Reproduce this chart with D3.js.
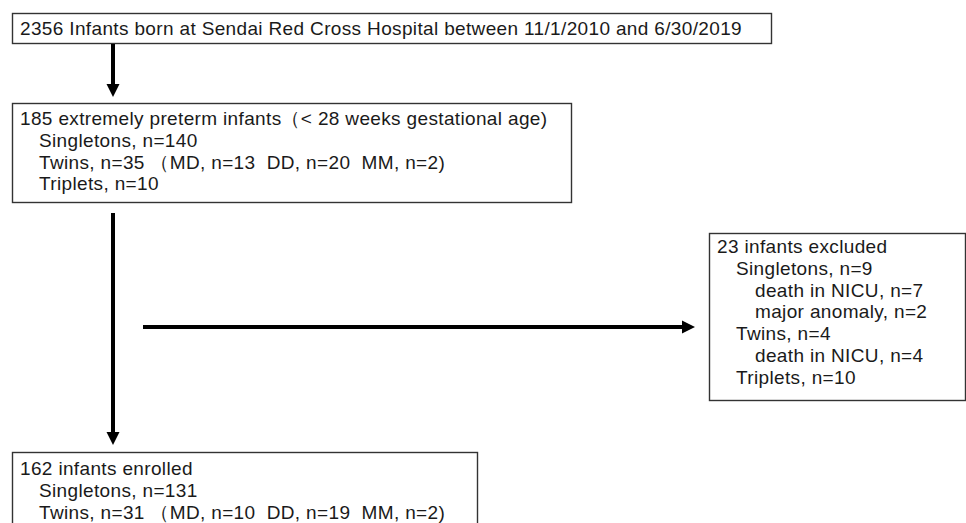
<!DOCTYPE html>
<html>
<head>
<meta charset="utf-8">
<script src="https://cdn.jsdelivr.net/npm/d3@7"></script>
<style>
  body { margin: 0; background: #fff; }
  svg { display: block; }
</style>
</head>
<body>
<div id="chart"></div>
<script>
// box texts (indent level, text)
var screenedLines = [[0, "2356 Infants born at Sendai Red Cross Hospital between 11/1/2010 and 6/30/2019"]];
var pretermLines = [
  [0, "185 extremely preterm infants（< 28 weeks gestational age)"],
  [1, "Singletons, n=140"],
  [1, "Twins, n=35 （MD, n=13  DD, n=20  MM, n=2)"],
  [1, "Triplets, n=10"]
];
var excludedLines = [
  [0, "23 infants excluded"],
  [1, "Singletons, n=9"],
  [2, "death in NICU, n=7"],
  [2, "major anomaly, n=2"],
  [1, "Twins, n=4"],
  [2, "death in NICU, n=4"],
  [1, "Triplets, n=10"]
];
var enrolledLines = [
  [0, "162 infants enrolled"],
  [1, "Singletons, n=131"],
  [1, "Twins, n=31 （MD, n=10  DD, n=19  MM, n=2)"]
];

var width = 966, height = 523;
var lineH = 21.8;
var indent = d3.scaleLinear().domain([0, 1]).range([0, 19]);
var fontFamily = "'Liberation Sans', Arial, sans-serif";
var fontSize = 19;

var svg = d3.select("#chart").append("svg")
  .attr("width", width)
  .attr("height", height);

// a little letter spacing so the first line is as wide as in the picture (~722px)
var probe = svg.append("text")
  .style("font-family", fontFamily)
  .style("font-size", fontSize + "px")
  .text(screenedLines[0][1]);
var spacing = Math.max(0, (722 - probe.node().getComputedTextLength()) / screenedLines[0][1].length);
probe.remove();

// layout of the boxes
var boxes = [
  {lines: screenedLines, x: 12, y: 13, w: 759, h: 30, base: 35},
  {lines: pretermLines, x: 12, y: 103, w: 559, h: 99, base: 125},
  {lines: excludedLines, x: 709, y: 233, w: 256, h: 167, base: 253},
  {lines: enrolledLines, x: 12, y: 452, w: 465, h: 100, base: 475}
];

boxes.forEach(function(b) {
  var g = svg.append("g");
  g.append("rect")
    .attr("x", b.x + 0.5).attr("y", b.y + 0.5)
    .attr("width", b.w).attr("height", b.h)
    .attr("fill", "#fff")
    .attr("stroke", "#333")
    .attr("stroke-width", 1.4);
  g.selectAll("text")
    .data(b.lines)
    .enter().append("text")
    .attr("x", function(d) { return b.x + 8 + indent(d[0]); })
    .attr("y", function(d, i) { return b.base + i * lineH; })
    .style("font-family", fontFamily)
    .style("font-size", fontSize + "px")
    .style("letter-spacing", spacing + "px")
    .attr("fill", "#1a1a1a")
    .style("white-space", "pre")
    .attr("xml:space", "preserve")
    .text(function(d) { return d[1]; });
});

// arrows: [x1, y1, x2, y2]
var arrows = [
  [113, 44, 113, 97],
  [113, 213, 113, 445],
  [143, 327, 695, 327]
];
var headLen = 13, headHalf = 6.5;

arrows.forEach(function(a) {
  var dx = a[2] - a[0], dy = a[3] - a[1];
  var len = Math.sqrt(dx * dx + dy * dy);
  var ux = dx / len, uy = dy / len;
  var bx = a[2] - ux * headLen, by = a[3] - uy * headLen;
  svg.append("line")
    .attr("x1", a[0]).attr("y1", a[1])
    .attr("x2", bx + ux).attr("y2", by + uy)
    .attr("stroke", "#000")
    .attr("stroke-width", 4);
  svg.append("path")
    .attr("d", d3.line()([
      [a[2], a[3]],
      [bx - uy * headHalf, by + ux * headHalf],
      [bx + uy * headHalf, by - ux * headHalf]
    ]) + "Z")
    .attr("fill", "#000");
});
</script>
</body>
</html>
